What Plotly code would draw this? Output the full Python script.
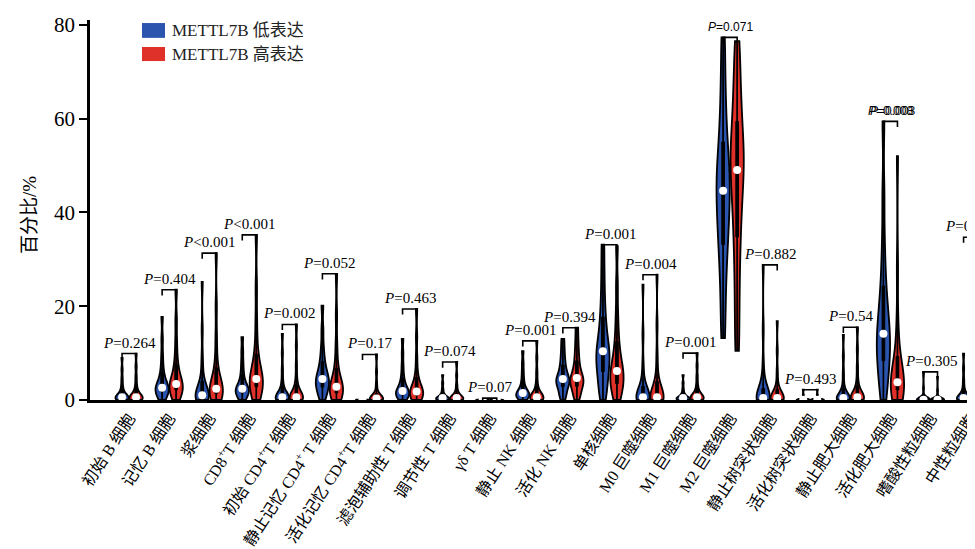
import numpy as np
import plotly.graph_objects as go

categories = ["初始 B 细胞", "记忆 B 细胞", "浆细胞", "CD8<sup>+</sup>T 细胞", "初始 CD4<sup>+</sup>T 细胞",
              "静止记忆 CD4<sup>+</sup> T 细胞", "活化记忆 CD4<sup>+</sup>T 细胞", "滤泡辅助性 T 细胞",
              "调节性 T 细胞", "γδ T 细胞", "静止 NK 细胞", "活化 NK 细胞", "单核细胞", "M0 巨噬细胞",
              "M1 巨噬细胞", "M2 巨噬细胞", "静止树突状细胞", "活化树突状细胞", "静止肥大细胞",
              "活化肥大细胞", "嗜酸性粒细胞", "中性粒细胞"]

low_values = [
    [0, 0, 0.1, 0.2, 0.3, 0.4, 0.5, 0.55, 0.6, 0.8, 1.0, 1.4, 2.0, 3.0, 4.5, 6.5, 9.0],
    [0, 0.5, 1.0, 1.5, 1.9, 2.2, 2.4, 2.5, 2.6, 3.0, 3.6, 4.4, 5.5, 7.0, 9.5, 13, 17.7],
    [0, 0, 0.2, 0.4, 0.5, 0.7, 0.8, 0.9, 1.0, 1.3, 1.7, 2.4, 3.5, 5.5, 9, 15, 25.2],
    [0, 0.3, 0.8, 1.2, 1.6, 1.9, 2.1, 2.3, 2.4, 2.8, 3.3, 4.0, 5.0, 6.4, 8.2, 10.5, 13.4],
    [0, 0, 0.1, 0.2, 0.3, 0.4, 0.5, 0.55, 0.6, 0.8, 1.1, 1.6, 2.5, 4, 6.5, 10, 14.1],
    [0, 0.8, 1.6, 2.3, 2.9, 3.4, 3.8, 4.2, 4.5, 5.1, 5.8, 6.7, 7.8, 9.3, 11.5, 15, 20.1],
    [0, 0.01, 0.02, 0.03, 0.04, 0.05, 0.05, 0.06, 0.06, 0.07, 0.08, 0.1, 0.12, 0.15, 0.2, 0.25, 0.3],
    [0, 0.3, 0.6, 0.9, 1.2, 1.4, 1.6, 1.8, 1.9, 2.3, 2.8, 3.4, 4.3, 5.6, 7.5, 10, 13.0],
    [0, 0, 0.05, 0.1, 0.15, 0.2, 0.3, 0.35, 0.4, 0.5, 0.65, 0.85, 1.1, 1.6, 2.4, 3.6, 5.3],
    [0, 0, 0.01, 0.02, 0.02, 0.03, 0.03, 0.04, 0.04, 0.05, 0.06, 0.08, 0.1, 0.14, 0.2, 0.3, 0.4],
    [0, 0.2, 0.5, 0.7, 0.9, 1.1, 1.3, 1.4, 1.5, 1.8, 2.2, 2.8, 3.6, 4.7, 6.2, 8, 10.4],
    [0, 0.9, 1.7, 2.4, 3.0, 3.5, 3.9, 4.2, 4.5, 5.0, 5.6, 6.3, 7.2, 8.3, 9.6, 11.2, 13.0],
    [0, 1.8, 3.5, 5.0, 6.4, 7.6, 8.7, 9.6, 10.4, 11.6, 13, 14.8, 17, 19.8, 23.5, 28, 33.1],
    [0, 0, 0.1, 0.2, 0.3, 0.4, 0.5, 0.55, 0.6, 0.8, 1.1, 1.6, 2.5, 4.2, 7.5, 14, 24.6],
    [0, 0, 0.05, 0.1, 0.15, 0.2, 0.3, 0.35, 0.4, 0.5, 0.65, 0.85, 1.1, 1.6, 2.4, 3.6, 5.3],
    [13.2, 20, 26, 30.5, 34, 37, 39.5, 42, 44.6, 46.5, 48.5, 51, 54, 58, 63, 69.5, 77.3],
    [0, 0, 0.05, 0.1, 0.15, 0.2, 0.3, 0.35, 0.4, 0.55, 0.8, 1.2, 2.0, 3.8, 7.5, 15, 28.8],
    [0, 0, 0.01, 0.02, 0.02, 0.03, 0.03, 0.04, 0.05, 0.06, 0.08, 0.1, 0.15, 0.25, 0.5, 1.1, 2.2],
    [0, 0, 0.05, 0.1, 0.15, 0.2, 0.3, 0.35, 0.4, 0.55, 0.8, 1.2, 2.0, 3.4, 5.8, 9.3, 13.9],
    [0, 2.5, 5, 7, 8.8, 10.4, 11.8, 13, 14.1, 15.8, 17.8, 20.2, 23.2, 27.5, 34, 44, 59.4],
    [0, 0, 0.01, 0.02, 0.02, 0.03, 0.03, 0.04, 0.05, 0.06, 0.08, 0.1, 0.15, 0.3, 0.8, 2.5, 6.0],
    [0, 0, 0.05, 0.1, 0.15, 0.2, 0.3, 0.35, 0.4, 0.55, 0.75, 1.1, 1.7, 2.7, 4.3, 6.7, 9.9],
]

high_values = [
    [0, 0, 0.1, 0.2, 0.3, 0.4, 0.5, 0.55, 0.6, 0.8, 1.1, 1.5, 2.2, 3.3, 5.0, 7.2, 9.9],
    [0, 0.6, 1.2, 1.8, 2.3, 2.7, 3.0, 3.2, 3.4, 4.0, 4.8, 5.8, 7.2, 9.2, 12.5, 17, 23.5],
    [0, 0.3, 0.7, 1.1, 1.5, 1.8, 2.0, 2.2, 2.4, 2.9, 3.6, 4.6, 6.2, 9, 13.5, 20, 31.3],
    [0, 0.8, 1.6, 2.4, 3.0, 3.5, 3.9, 4.2, 4.5, 5.2, 6.0, 7.2, 9.0, 12, 17, 24, 35.2],
    [0, 0, 0.1, 0.2, 0.3, 0.4, 0.5, 0.55, 0.6, 0.9, 1.3, 1.9, 2.8, 4.5, 7.5, 11.5, 16.1],
    [0, 0.4, 0.8, 1.2, 1.6, 2.0, 2.3, 2.6, 2.8, 3.3, 4.0, 4.9, 6.2, 8.5, 12, 18, 26.9],
    [0, 0.02, 0.05, 0.08, 0.12, 0.16, 0.2, 0.25, 0.3, 0.4, 0.55, 0.8, 1.2, 2.0, 3.5, 6, 9.7],
    [0, 0.3, 0.6, 0.9, 1.1, 1.3, 1.5, 1.7, 1.8, 2.2, 2.7, 3.4, 4.4, 6, 9, 13.5, 19.4],
    [0, 0, 0.05, 0.1, 0.15, 0.2, 0.3, 0.35, 0.4, 0.5, 0.7, 0.95, 1.3, 2.0, 3.2, 5.2, 8.1],
    [0, 0, 0.01, 0.01, 0.02, 0.02, 0.03, 0.03, 0.04, 0.05, 0.06, 0.07, 0.09, 0.12, 0.16, 0.22, 0.3],
    [0, 0, 0.1, 0.2, 0.3, 0.4, 0.5, 0.55, 0.6, 0.8, 1.1, 1.6, 2.4, 3.8, 6, 9, 12.6],
    [0, 0.9, 1.8, 2.5, 3.1, 3.6, 4.0, 4.4, 4.7, 5.3, 6.0, 6.9, 8.0, 9.4, 11, 13, 15.4],
    [0, 1.0, 2.0, 2.9, 3.7, 4.5, 5.1, 5.7, 6.2, 7.1, 8.3, 9.8, 11.8, 14.5, 18.5, 24.5, 32.8],
    [0, 0, 0.1, 0.2, 0.3, 0.4, 0.5, 0.55, 0.6, 0.9, 1.4, 2.2, 3.4, 5.5, 9.5, 16, 26.7],
    [0, 0, 0.1, 0.2, 0.3, 0.4, 0.5, 0.55, 0.6, 0.8, 1.1, 1.5, 2.2, 3.3, 5.0, 7.3, 10.0],
    [10.5, 18, 25, 31, 36, 40, 43.5, 46.5, 49, 51, 53, 55.5, 58.5, 62, 66, 71, 76.5],
    [0, 0, 0.05, 0.1, 0.15, 0.2, 0.3, 0.35, 0.4, 0.55, 0.8, 1.2, 1.9, 3.3, 6, 10.5, 16.8],
    [0, 0, 0.01, 0.02, 0.02, 0.03, 0.03, 0.04, 0.05, 0.06, 0.08, 0.1, 0.15, 0.25, 0.5, 1.1, 2.2],
    [0, 0, 0.1, 0.2, 0.3, 0.4, 0.5, 0.55, 0.6, 0.8, 1.2, 1.8, 2.7, 4.3, 7, 10.8, 15.5],
    [0, 0.5, 1.1, 1.7, 2.3, 2.8, 3.2, 3.5, 3.8, 4.5, 5.4, 6.7, 8.5, 11.5, 17, 28, 52],
    [0, 0, 0.01, 0.02, 0.02, 0.03, 0.03, 0.04, 0.05, 0.06, 0.08, 0.1, 0.15, 0.3, 0.7, 2.0, 4.9],
    [0, 0, 0.1, 0.2, 0.3, 0.4, 0.5, 0.55, 0.6, 0.9, 1.4, 2.3, 3.8, 6.5, 11.5, 20, 34.7],
]

p_labels = ["P=0.264", "P=0.404", "P<0.001", "P<0.001", "P=0.002", "P=0.052", "P=0.17", "P=0.463",
            "P=0.074", "P=0.07", "P=0.001", "P=0.394", "P=0.001", "P=0.004", "P=0.001", "P=0.071",
            "P=0.882", "P=0.493", "P=0.54", "P=0.008", "P=0.305", "P=0.211"]

group_names = ["METTL7B 低表达", "METTL7B 高表达"]
group_colors = ["#2B54AE", "#E0302A"]

OFF = 0.175
VW = 0.33
BW_FRAC = 0.08
SERIF = "Liberation Serif, Times New Roman, Noto Sans CJK SC, serif"

fig = go.Figure()

for g, (vals, col) in enumerate(zip([low_values, high_values], group_colors)):
    sign = -1 if g == 0 else 1
    wx, wy, mx, my = [], [], [], []
    for i, v in enumerate(vals):
        xpos = i + sign * OFF
        bw = BW_FRAC * (max(v) - min(v))
        fig.add_trace(go.Violin(
            x0=xpos, y=v, width=VW, fillcolor=col, opacity=1, bandwidth=bw,
            line=dict(color="black", width=1.8), spanmode="hard", points=False,
            box=dict(visible=True, width=0.2, fillcolor="black", line=dict(color="black", width=1)),
            meanline=dict(visible=False), showlegend=False, hoverinfo="skip", scalemode="width",
        ))
        wx += [xpos, xpos, None]
        wy += [min(v), max(v), None]
        mx.append(xpos)
        my.append(float(np.median(v)))
    fig.add_trace(go.Scatter(x=wx, y=wy, mode="lines", line=dict(color="black", width=1.6),
                             showlegend=False, hoverinfo="skip"))
    fig.add_trace(go.Scatter(x=mx, y=my, mode="markers",
                             marker=dict(color="white", size=8, line=dict(width=0)),
                             showlegend=False, hoverinfo="skip"))

# brackets and p-values
bx, by = [], []
LEG = 1.2
annotations = []
for i in range(len(categories)):
    h = max(max(low_values[i]), max(high_values[i]))
    xl, xr = i - OFF, i + OFF
    bx += [xl, xl, xr, xr, None]
    by += [h - LEG, h, h, h - LEG, None]
    txt = p_labels[i].replace("P", "<i>P</i>", 1)
    small = i in (15, 19)
    fnt = dict(family="Liberation Sans, Arial, sans-serif", size=12, color="black") if small else \
        dict(family=SERIF, size=15, color="black")
    annotations.append(dict(x=i, y=h, xref="x", yref="y", text=txt, showarrow=False,
                            yanchor="bottom", yshift=1, font=fnt))
    if i == 19:
        annotations.append(dict(x=i, y=h, xref="x", yref="y", text="<i>P</i>=0.003", showarrow=False,
                                yanchor="bottom", yshift=1, xshift=2, font=fnt))
fig.add_trace(go.Scatter(x=bx, y=by, mode="lines", line=dict(color="black", width=1.6),
                         showlegend=False, hoverinfo="skip"))

# legend (manual)
shapes = []
rows = [(0.992, 0.953), (0.929, 0.892)]
for (y1, y0), col, name in zip(rows, group_colors, group_names):
    shapes.append(dict(type="rect", xref="paper", yref="paper", x0=0.0582, x1=0.084, y0=y0, y1=y1,
                       fillcolor=col, line=dict(width=0)))
    annotations.append(dict(x=0.0896, y=(y0 + y1) / 2, xref="paper", yref="paper", text=name,
                            showarrow=False, xanchor="left", yanchor="middle",
                            font=dict(family=SERIF, size=17, color="#222")))

annotations.append(dict(x=-0.067, y=0.487, xref="paper", yref="paper", text="百分比/%",
                        showarrow=False, textangle=-90, xanchor="center", yanchor="middle",
                        font=dict(family=SERIF, size=19, color="black")))

fig.update_layout(
    width=975, height=549,
    margin=dict(l=82, r=0, t=12, b=157),
    plot_bgcolor="white", paper_bgcolor="white",
    showlegend=False,
    shapes=shapes, annotations=annotations,
    xaxis=dict(range=[-0.975, 21.31], tickmode="array", tickvals=list(range(len(categories))),
               ticktext=categories, tickangle=-57, showline=True, linecolor="black", linewidth=2.5,
               ticks="", showgrid=False, zeroline=False, automargin=False,
               tickfont=dict(family=SERIF, size=16, color="black")),
    yaxis=dict(range=[0, 81], tickvals=[0, 20, 40, 60, 80], showline=True, linecolor="black",
               linewidth=2.5, ticks="outside", ticklen=8, tickwidth=2, tickcolor="black",
               showgrid=False, zeroline=False, automargin=False,
               tickfont=dict(family=SERIF, size=21, color="black")),
)

fig.write_html("out.html")
